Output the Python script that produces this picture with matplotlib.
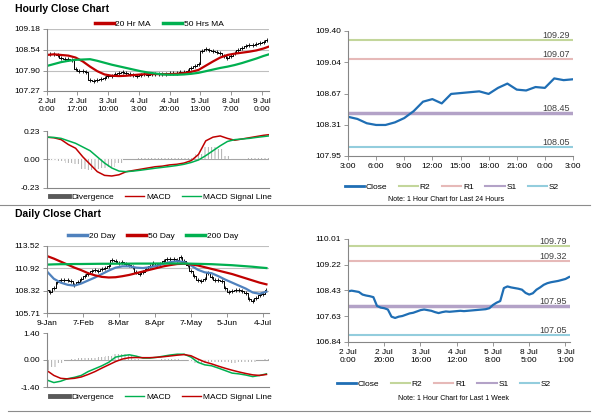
import numpy as np
import matplotlib.pyplot as plt
from matplotlib.lines import Line2D

plt.rcParams['font.family'] = ['Liberation Sans', 'DejaVu Sans']
plt.rcParams['hatch.linewidth'] = 0.6
plt.rcParams['hatch.color'] = '#a0a0a0'

# ---------------- hourly data (1 week, 1 hour bars) ----------------
hourly_bars = np.arange(0, 124, 2)
hourly_close = [108.40, 108.42, 108.40, 108.38, 108.30, 108.27, 108.25, 108.22, 107.95, 107.90,
                107.88, 107.84, 107.62, 107.58, 107.62, 107.64, 107.68, 107.72, 107.74, 107.78,
                107.82, 107.84, 107.82, 107.80, 107.76, 107.73, 107.76, 107.78, 107.77, 107.78,
                107.79, 107.80, 107.79, 107.80, 107.81, 107.82, 107.83, 107.84, 107.85, 107.88,
                107.98, 108.05, 108.10, 108.50, 108.55, 108.52, 108.50, 108.48, 108.45, 108.35,
                108.30, 108.34, 108.45, 108.52, 108.60, 108.65, 108.68, 108.70, 108.72, 108.75,
                108.78, 108.84]

ma_bars = [0, 4, 8, 12, 16, 20, 24, 28, 32, 36, 40, 44, 48, 52, 56, 60, 64, 68, 72, 76,
           80, 84, 88, 92, 96, 100, 104, 108, 112, 116, 120, 123]
ma20_hr = [108.38, 108.40, 108.38, 108.36, 108.30, 108.18, 108.02, 107.88, 107.78, 107.74,
           107.73, 107.74, 107.76, 107.78, 107.79, 107.79, 107.79, 107.79, 107.80, 107.82,
           107.86, 107.92, 108.05, 108.18, 108.30, 108.38, 108.42, 108.45, 108.48, 108.52,
           108.58, 108.64]
ma50_hr = [108.04, 108.10, 108.16, 108.20, 108.23, 108.24, 108.25, 108.20, 108.14, 108.08,
           108.03, 107.98, 107.93, 107.88, 107.84, 107.81, 107.78, 107.77, 107.77, 107.78,
           107.80, 107.83, 107.88, 107.93, 107.98, 108.02, 108.07, 108.13, 108.20, 108.27,
           108.35, 108.40]
macd_hr = [0.18, 0.175, 0.16, 0.12, 0.09, 0.02, -0.04, -0.10, -0.13, -0.135,
           -0.125, -0.10, -0.09, -0.08, -0.07, -0.06, -0.055, -0.045, -0.04, -0.03,
           -0.01, 0.04, 0.15, 0.18, 0.19, 0.17, 0.155, 0.165, 0.175, 0.185,
           0.195, 0.20]
signal_hr = [0.18, 0.178, 0.17, 0.15, 0.13, 0.10, 0.07, 0.02, -0.03, -0.07,
             -0.095, -0.10, -0.095, -0.088, -0.08, -0.072, -0.065, -0.058, -0.05, -0.04,
             -0.025, -0.005, 0.03, 0.07, 0.11, 0.145, 0.16, 0.165, 0.17, 0.178,
             0.185, 0.19]
div_hr = [0.0, -0.003, -0.01, -0.03, -0.04, -0.08, -0.09, -0.08, -0.07, -0.06,
          -0.03, 0.0, 0.005, 0.008, 0.01, 0.012, 0.01, 0.013, 0.01, 0.01,
          0.015, 0.04, 0.10, 0.10, 0.08, 0.03, 0.0, 0.005, 0.01, 0.012,
          0.01, 0.01]
hourly_tick_pos = [0, 17, 34, 51, 68, 85, 102, 119]
hourly_tick_lab = ['2 Jul\n0:00', '2 Jul\n17:00', '3 Jul\n10:00', '4 Jul\n3:00',
                   '4 Jul\n20:00', '5 Jul\n13:00', '8 Jul\n7:00', '9 Jul\n0:00']
hourly_yticks = [107.27, 107.90, 108.54, 109.18]
macd_hr_yticks = [-0.23, 0.00, 0.23]

# ---------------- last 24 hours ----------------
day_hours = np.arange(25)
day_close = [108.405, 108.38, 108.33, 108.31, 108.31, 108.34, 108.39, 108.47, 108.58, 108.61,
             108.56, 108.67, 108.68, 108.69, 108.70, 108.67, 108.74, 108.79, 108.72, 108.71,
             108.75, 108.74, 108.85, 108.83, 108.84]
day_tick_lab = ['3:00', '6:00', '9:00', '12:00', '15:00', '18:00', '21:00', '0:00', '3:00']
day_yticks = [107.95, 108.31, 108.67, 109.04, 109.40]
day_levels = {'R2': 109.29, 'R1': 109.07, 'S1': 108.45, 'S2': 108.05}

# ---------------- daily data ----------------
daily_idx = np.arange(0, 130, 2)
daily_close = [108.4, 108.2, 108.6, 109.3, 109.6, 109.5, 109.5, 109.4, 109.0, 109.3,
               109.7, 110.0, 110.3, 110.6, 110.7, 110.6, 110.8, 110.9, 111.2, 111.9,
               111.8, 111.5, 111.6, 111.4, 111.3, 111.1, 110.5, 110.3, 110.5, 110.8,
               111.2, 111.5, 111.3, 111.4, 111.8, 112.0, 112.0, 112.0, 111.9, 112.2,
               111.8, 111.3, 110.6, 110.0, 109.6, 109.4, 109.7, 110.4, 109.9, 109.6,
               109.5, 109.4, 108.6, 108.1, 108.3, 108.4, 108.4, 108.3, 108.0, 107.3,
               107.1, 107.5, 107.8, 107.9, 108.4]
daily_ma_idx = np.arange(0, 132, 4)
ma20_d = [110.55, 109.70, 109.25, 109.00, 108.90, 109.15, 109.50, 109.85, 110.25, 110.65,
          111.00, 111.15, 111.15, 111.00, 110.95, 111.05, 111.20, 111.45, 111.65, 111.75,
          111.65, 111.25, 110.75, 110.45, 110.35, 110.00, 109.60, 109.25, 108.90, 108.55,
          108.10, 107.95, 108.20]
ma50_d = [112.35, 112.05, 111.70, 111.35, 111.00, 110.70, 110.35, 110.10, 109.92, 109.85,
          109.88, 110.00, 110.15, 110.35, 110.55, 110.75, 110.95, 111.15, 111.30, 111.42,
          111.45, 111.38, 111.25, 111.05, 110.85, 110.65, 110.45, 110.25, 110.00, 109.75,
          109.50, 109.25, 109.05]
ma200_d = [111.35, 111.38, 111.40, 111.40, 111.42, 111.42, 111.43, 111.44, 111.45, 111.45,
           111.46, 111.46, 111.46, 111.47, 111.47, 111.47, 111.48, 111.48, 111.48, 111.48,
           111.47, 111.46, 111.44, 111.42, 111.40, 111.36, 111.32, 111.28, 111.22, 111.16,
           111.10, 111.02, 110.95]
macd_d = [-1.04, -1.17, -1.10, -0.97, -0.90, -0.80, -0.60, -0.45, -0.30, -0.12,
          0.15, 0.22, 0.27, 0.20, 0.10, 0.10, 0.14, 0.20, 0.26, 0.30,
          0.30, 0.15, -0.12, -0.25, -0.30, -0.42, -0.55, -0.68, -0.72, -0.78,
          -0.86, -0.80, -0.72]
signal_d = [-0.55, -0.80, -0.95, -0.98, -0.95, -0.88, -0.75, -0.60, -0.42, -0.25,
            -0.08, 0.05, 0.12, 0.13, 0.12, 0.12, 0.14, 0.17, 0.21, 0.25,
            0.28, 0.22, 0.05, -0.10, -0.20, -0.32, -0.43, -0.53, -0.62, -0.70,
            -0.77, -0.80, -0.75]
div_d = [-0.50, -0.37, -0.15, 0.01, 0.05, 0.08, 0.12, 0.12, 0.15, 0.20,
         0.30, 0.30, 0.25, 0.07, -0.02, -0.02, 0.0, 0.03, 0.05, 0.05,
         0.02, -0.07, -0.17, -0.15, -0.10, -0.10, -0.12, -0.15, -0.10, -0.08,
         -0.09, 0.0, 0.03]
daily_tick_pos = [0, 21, 42, 63, 84, 105, 126]
daily_tick_lab = ['9-Jan', '7-Feb', '8-Mar', '8-Apr', '7-May', '5-Jun', '4-Jul']
daily_yticks = [105.71, 108.32, 110.92, 113.52]
macd_d_yticks = [-1.40, 0.00, 1.40]

# ---------------- week (right bottom) ----------------
week_tick_pos = [0, 20, 40, 60, 80, 100, 120]
week_tick_lab = ['2 Jul\n0:00', '2 Jul\n20:00', '3 Jul\n16:00', '4 Jul\n12:00',
                 '5 Jul\n8:00', '8 Jul\n5:00', '9 Jul\n1:00']
week_yticks = [106.84, 107.63, 108.43, 109.22, 110.01]
week_levels = {'R2': 109.79, 'R1': 109.32, 'S1': 107.95, 'S2': 107.05}

level_colors = {'R2': '#c3d69b', 'R1': '#e6b9b8', 'S1': '#b3a2c7', 'S2': '#93cddd'}
level_widths = {'R2': 1.5, 'R1': 1.5, 'S1': 2.5, 'S2': 1.5}

W, H = 600, 413
SPINE = '#868686'
FS = 6


def box(x0, y0, x1, y1):
    # pixel box -> figure fraction
    return [x0 / W, 1 - y1 / H, (x1 - x0) / W, (y1 - y0) / H]


def style(ax, yticks, ylim):
    for s in ['top', 'right']:
        ax.spines[s].set_visible(False)
    for s in ['left', 'bottom']:
        ax.spines[s].set_color(SPINE)
        ax.spines[s].set_linewidth(0.8)
    ax.set_ylim(*ylim)
    ax.set_yticks(yticks)
    ax.set_yticklabels(['%.2f' % v for v in yticks])
    ax.tick_params(labelsize=FS, length=3, width=0.6, color=SPINE, pad=2)


def legend(fig, handles, labels, x, y):
    fig.legend(handles, labels, loc='center', bbox_to_anchor=(x / W, 1 - y / H),
               ncol=len(labels), frameon=False, fontsize=FS, handlelength=2.3,
               handletextpad=0.2, columnspacing=1.4, borderaxespad=0)


def level_panel(fig, rect, x, close, levels, yticks, xticks, xlabels, xlim):
    ax = fig.add_axes(rect)
    style(ax, yticks, (yticks[0], yticks[-1]))
    for k in ['R2', 'R1', 'S1', 'S2']:
        ax.axhline(levels[k], color=level_colors[k], lw=level_widths[k])
        ax.text(xlim[1] * 0.985, levels[k], '%.2f' % levels[k], ha='right', va='bottom',
                fontsize=6.5, color='#404040')
    ax.plot(x, close, color='#1f6eb4', lw=1.6)
    ax.set_xlim(*xlim)
    ax.set_xticks(xticks)
    ax.set_xticklabels(xlabels)
    handles = [Line2D([], [], color='#1f6eb4', lw=2)] + \
              [Line2D([], [], color=level_colors[k], lw=1.5) for k in ['R2', 'R1', 'S1', 'S2']]
    return ax, handles


def main():
    fig = plt.figure(figsize=(W / 100, H / 100), dpi=100)

    fig.text(15 / W, 1 - 9 / H, 'Hourly Close Chart', fontsize=7.5, fontweight='bold', va='center')
    fig.text(15 / W, 1 - 214 / H, 'Daily Close Chart', fontsize=7.5, fontweight='bold', va='center')
    fig.add_artist(Line2D([0 / W, 590 / W], [1 - 205 / H, 1 - 205 / H], color='#8c8c8c', lw=0.8))
    fig.add_artist(Line2D([8 / W, 590 / W], [1 - 411 / H, 1 - 411 / H], color='#8c8c8c', lw=0.8))

    # hourly price
    ax1 = fig.add_axes(box(46.7, 29, 269, 91))
    style(ax1, hourly_yticks, (107.27, 109.18))
    for v in hourly_yticks[1:]:
        ax1.axhline(v, color='#bfbfbf', lw=0.8, zorder=0)
    ax1.plot(hourly_bars, hourly_close, color='black', lw=0.7, drawstyle='steps-mid')
    ax1.plot(hourly_bars, hourly_close, color='black', ls='none', marker='|', ms=3, mew=0.6)
    ax1.plot(ma_bars, ma20_hr, color='#c00000', lw=1.6)
    ax1.plot(ma_bars, ma50_hr, color='#00b050', lw=1.6)
    ax1.set_xlim(0, 123)
    ax1.set_xticks(hourly_tick_pos)
    ax1.set_xticklabels(hourly_tick_lab)
    legend(fig, [Line2D([], [], color='#c00000', lw=2.5), Line2D([], [], color='#00b050', lw=2.5)],
           ['20 Hr MA', '50 Hrs MA'], 159, 24)

    # hourly macd
    ax2 = fig.add_axes(box(46.7, 131, 269, 187.7))
    style(ax2, macd_hr_yticks, (-0.23, 0.23))
    ax2.axhline(0, color='#a6a6a6', lw=0.8, zorder=0)
    ax2.bar(ma_bars, div_hr, width=4, color='white', hatch='|||||', lw=0, zorder=1)
    ax2.plot(ma_bars, macd_hr, color='#c00000', lw=1.1)
    ax2.plot(ma_bars, signal_hr, color='#00b050', lw=1.1)
    ax2.set_xlim(0, 123)
    ax2.set_xticks([])
    legend(fig, [Line2D([], [], color='#595959', lw=3.5), Line2D([], [], color='#c00000', lw=1),
                 Line2D([], [], color='#00b050', lw=1)],
           ['Divergence', 'MACD', 'MACD Signal Line'], 161, 197)

    # last 24 hours
    ax3, h3 = level_panel(fig, box(348, 31, 573, 156), day_hours, day_close, day_levels,
                          day_yticks, list(range(0, 25, 3)), day_tick_lab, (0, 24))
    legend(fig, h3, ['Close', 'R2', 'R1', 'S1', 'S2'], 452, 187)
    fig.text(446 / W, 1 - 200 / H, 'Note: 1 Hour Chart for Last 24 Hours', fontsize=5, ha='center', va='center')

    # daily price
    ax4 = fig.add_axes(box(47, 246, 269, 313))
    style(ax4, daily_yticks, (105.71, 113.52))
    for v in daily_yticks[1:]:
        ax4.axhline(v, color='#bfbfbf', lw=0.8, zorder=0)
    ax4.plot(daily_idx, daily_close, color='black', lw=0.7, drawstyle='steps-mid')
    ax4.plot(daily_idx, daily_close, color='black', ls='none', marker='|', ms=3, mew=0.6)
    ax4.plot(daily_ma_idx, ma20_d, color='#4f81bd', lw=1.6)
    ax4.plot(daily_ma_idx, ma50_d, color='#c00000', lw=1.6)
    ax4.plot(daily_ma_idx, ma200_d, color='#00b050', lw=1.6)
    ax4.set_xlim(0, 129.5)
    ax4.set_xticks(daily_tick_pos)
    ax4.set_xticklabels(daily_tick_lab)
    legend(fig, [Line2D([], [], color='#4f81bd', lw=2.5), Line2D([], [], color='#c00000', lw=2.5),
                 Line2D([], [], color='#00b050', lw=2.5)],
           ['20 Day', '50 Day', '200 Day'], 153, 236)

    # daily macd
    ax5 = fig.add_axes(box(47, 333, 269, 387))
    style(ax5, macd_d_yticks, (-1.40, 1.40))
    ax5.axhline(0, color='#a6a6a6', lw=0.8, zorder=0)
    ax5.bar(daily_ma_idx, div_d, width=4, color='white', hatch='|||||', lw=0, zorder=1)
    ax5.plot(daily_ma_idx, macd_d, color='#00b050', lw=1.1)
    ax5.plot(daily_ma_idx, signal_d, color='#c00000', lw=1.1)
    ax5.set_xlim(0, 129.5)
    ax5.set_xticks([])
    legend(fig, [Line2D([], [], color='#595959', lw=3.5), Line2D([], [], color='#00b050', lw=1),
                 Line2D([], [], color='#c00000', lw=1)],
           ['Divergence', 'MACD', 'MACD Signal Line'], 161, 397)

    # last week hourly
    ax6, h6 = level_panel(fig, box(348, 239, 570, 342), hourly_bars, hourly_close, week_levels,
                          week_yticks, week_tick_pos, week_tick_lab, (0, 122.5))
    legend(fig, h6, ['Close', 'R2', 'R1', 'S1', 'S2'], 444, 384)
    fig.text(453 / W, 1 - 398 / H, 'Note: 1 Hour Chart for Last 1 Week', fontsize=5, ha='center', va='center')

    fig.savefig('out.png', dpi=100)


if __name__ == '__main__':
    main()
